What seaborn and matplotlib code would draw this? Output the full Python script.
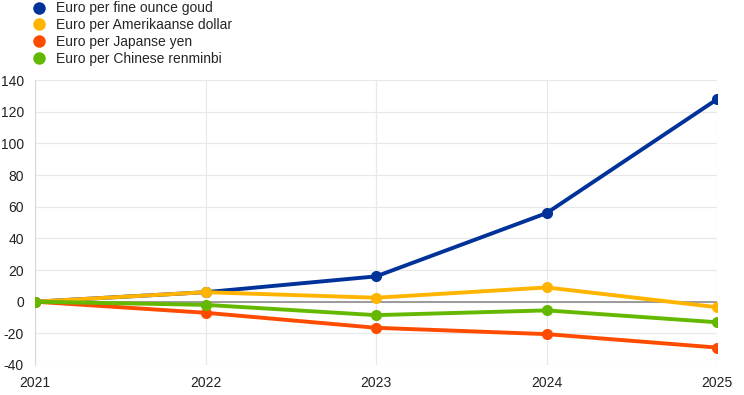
import seaborn as sns
import matplotlib.pyplot as plt
import pandas as pd

years = [2021, 2022, 2023, 2024, 2025]
gold = [0, 6, 16, 56, 128]
usd = [0, 6, 2.5, 9, -3.5]
jpy = [0, -7, -16.5, -20.5, -29]
cny = [0, -2, -8.5, -5.5, -13]

series = ["Euro per fine ounce goud", "Euro per Amerikaanse dollar",
          "Euro per Japanse yen", "Euro per Chinese renminbi"]
colors = ["#003299", "#FFB400", "#FF4B00", "#65B800"]

rows = []
for name, vals in zip(series, [gold, usd, jpy, cny]):
    for yr, v in zip(years, vals):
        rows.append({"year": yr, "value": v, "series": name})
df = pd.DataFrame(rows)

sns.set_style("white")
plt.rcParams['font.family'] = ['Liberation Sans', 'DejaVu Sans']
plt.rcParams['axes.unicode_minus'] = False

fig = plt.figure(figsize=(7.44, 3.95), dpi=100)
ax = fig.add_axes([0.047, 0.076, 0.917, 0.721])

ax.axhline(0, color="#8c8c8c", lw=1.2, zorder=1)
sns.lineplot(data=df, x="year", y="value", hue="series", palette=colors,
             marker="o", markersize=8, markeredgewidth=0, linewidth=2.8,
             ax=ax, zorder=3)

ax.set_xlim(2021, 2025)
ax.set_ylim(-40, 140)
ax.set_xticks(years)
ax.set_yticks(range(-40, 141, 20))
ax.grid(True, color="#e8e8e8", lw=0.9)
ax.set_axisbelow(True)
for s in ["top", "right", "bottom"]:
    ax.spines[s].set_visible(False)
ax.spines["left"].set_color("#d9d9d9")
ax.tick_params(length=0, labelsize=10, colors="#222222")
ax.tick_params(axis="x", pad=8)
ax.tick_params(axis="y", pad=8)
ax.set_xlabel("")
ax.set_ylabel("")

handles, labels = ax.get_legend_handles_labels()
ax.get_legend().remove()
leg = fig.legend(handles, labels, loc="upper left", bbox_to_anchor=(0.028, 1.028),
                 frameon=False, fontsize=10, handlelength=0.8, handletextpad=0.8,
                 labelspacing=0.2)
for h in leg.legend_handles:
    h.set_linestyle("")
    h.set_markersize(9)

fig.savefig("out.png", dpi=100)
